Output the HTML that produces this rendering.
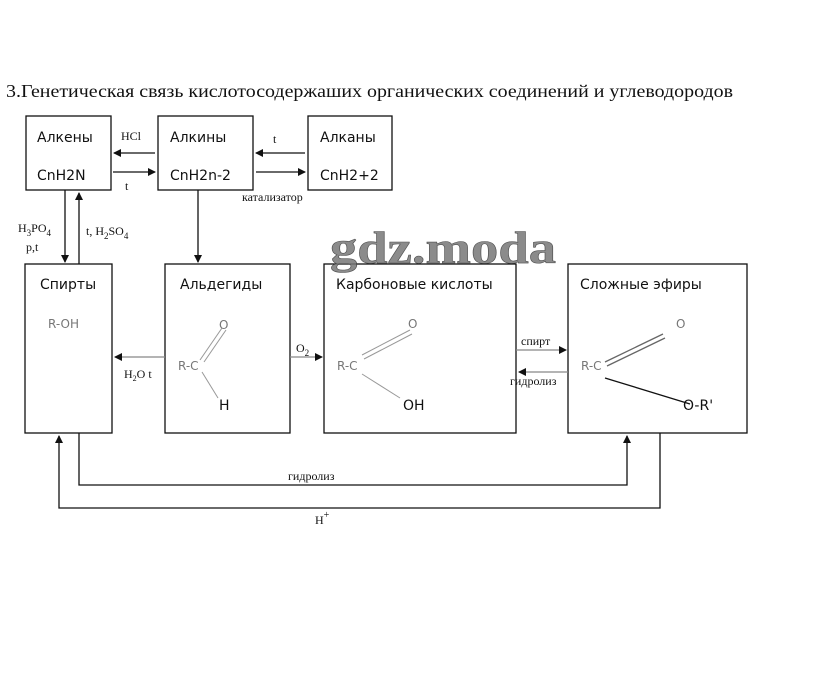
<!DOCTYPE html>
<html><head><meta charset="utf-8"><style>
html,body{margin:0;padding:0;background:#fff;width:817px;height:676px;overflow:hidden}
svg{display:block}
.s{font-family:"DejaVu Sans","Liberation Sans",sans-serif;font-size:14px;fill:#111}
.g{font-family:"DejaVu Sans","Liberation Sans",sans-serif;font-size:12px;fill:#777}
.r{font-family:"Liberation Serif",serif;font-size:12px;fill:#111}
</style></head><body>
<svg width="817" height="676" viewBox="0 0 817 676">
<defs><marker id="a" markerWidth="8" markerHeight="8" refX="7" refY="4" orient="auto" markerUnits="userSpaceOnUse"><path d="M0,0 L8,4 L0,8z" fill="#111"/></marker></defs>
<text x="6" y="97" font-family="Liberation Serif,serif" font-size="18" fill="#111" textLength="727" lengthAdjust="spacingAndGlyphs">3.Генетическая связь кислотосодержаших органических соединений и углеводородов</text>
<g fill="none" stroke="#111" stroke-width="1.3">
<rect x="26" y="116" width="85" height="74"/>
<rect x="158" y="116" width="95" height="74"/>
<rect x="308" y="116" width="84" height="74"/>
<rect x="25" y="264" width="87" height="169"/>
<rect x="165" y="264" width="125" height="169"/>
<rect x="324" y="264" width="192" height="169"/>
<rect x="568" y="264" width="179" height="169"/>
<line x1="155" y1="153" x2="114" y2="153" marker-end="url(#a)"/>
<line x1="113" y1="172" x2="155" y2="172" marker-end="url(#a)"/>
<line x1="305" y1="153" x2="256" y2="153" marker-end="url(#a)"/>
<line x1="256" y1="172" x2="305" y2="172" marker-end="url(#a)"/>
<line x1="65" y1="190" x2="65" y2="262" marker-end="url(#a)"/>
<line x1="79" y1="264" x2="79" y2="193" marker-end="url(#a)"/>
<line x1="198" y1="190" x2="198" y2="262" marker-end="url(#a)"/>
<line x1="165" y1="357" x2="115" y2="357" stroke="#888" marker-end="url(#a)"/>
<line x1="290" y1="357" x2="322" y2="357" stroke="#888" marker-end="url(#a)"/>
<line x1="516" y1="350" x2="566" y2="350" stroke="#888" marker-end="url(#a)"/>
<line x1="568" y1="372" x2="519" y2="372" stroke="#888" marker-end="url(#a)"/>
<polyline points="79,433 79,485 627,485 627,436" marker-end="url(#a)"/>
<polyline points="660,433 660,508 59,508 59,436" marker-end="url(#a)"/>
<g stroke="#999" stroke-width="1">
<line x1="200" y1="360" x2="222" y2="328"/><line x1="204" y1="362" x2="226" y2="330"/>
<line x1="202" y1="372" x2="218" y2="398"/>
<line x1="362" y1="355" x2="410" y2="330"/><line x1="364" y1="359" x2="412" y2="334"/>
<line x1="362" y1="374" x2="400" y2="398"/>
</g>
<line x1="605" y1="362" x2="663" y2="334" stroke="#666"/><line x1="607" y1="366" x2="665" y2="338" stroke="#666"/>
<line x1="605" y1="378" x2="690" y2="404" stroke="#111"/>
</g>
<text x="37" y="142" class="s">Алкены</text><text x="37" y="180" class="s">CnH2N</text>
<text x="170" y="142" class="s">Алкины</text><text x="170" y="180" class="s">CnH2n-2</text>
<text x="320" y="142" class="s">Алканы</text><text x="320" y="180" class="s">CnH2+2</text>
<text x="121" y="140" class="r" font-size="13">HCl</text>
<text x="125" y="190" class="r" font-size="13">t</text>
<text x="273" y="143" class="r" font-size="13">t</text>
<text x="242" y="201" class="r" font-size="13">катализатор</text>
<text x="18" y="232" class="r" font-size="13">H<tspan font-size="9" dy="4">3</tspan><tspan dy="-4">PO</tspan><tspan font-size="9" dy="4">4</tspan></text>
<text x="26" y="251" class="r" font-size="12">p,t</text>
<text x="86" y="235" class="r" font-size="13">t, H<tspan font-size="9" dy="4">2</tspan><tspan dy="-4">SO</tspan><tspan font-size="9" dy="4">4</tspan></text>
<text x="40" y="289" class="s">Спирты</text>
<text x="180" y="289" class="s">Альдегиды</text>
<text x="336" y="289" class="s">Карбоновые кислоты</text>
<text x="580" y="289" class="s">Сложные эфиры</text>
<text x="48" y="328" class="g">R-OH</text>
<text x="219" y="329" class="g">O</text><text x="178" y="370" class="g">R-C</text><text x="219" y="410" class="s" font-size="13">H</text>
<text x="408" y="328" class="g">O</text><text x="337" y="370" class="g">R-C</text><text x="403" y="410" class="s" font-size="13">OH</text>
<text x="676" y="328" class="g" fill="#555">O</text><text x="581" y="370" class="g" fill="#555">R-C</text><text x="683" y="410" class="s" font-size="13">O-R'</text>
<text x="124" y="378" class="r" fill="#888">H<tspan font-size="8" dy="3">2</tspan><tspan dy="-3">O t</tspan></text>
<text x="296" y="352" class="r" font-size="13">O<tspan font-size="9" dy="4">2</tspan></text>
<text x="521" y="345" class="r" font-size="11">спирт</text>
<text x="510" y="385" class="r" font-size="11">гидролиз</text>
<text x="288" y="480" class="r" font-size="12">гидролиз</text>
<text x="315" y="524" class="r" font-size="14">H<tspan font-size="10" dy="-6">+</tspan></text>
<text x="330" y="263" font-family="Liberation Serif,serif" font-weight="bold" font-size="46" fill="#777" stroke="#333" stroke-width="0.6" opacity="0.85" textLength="226" lengthAdjust="spacingAndGlyphs">gdz.moda</text>
</svg>
</body></html>
